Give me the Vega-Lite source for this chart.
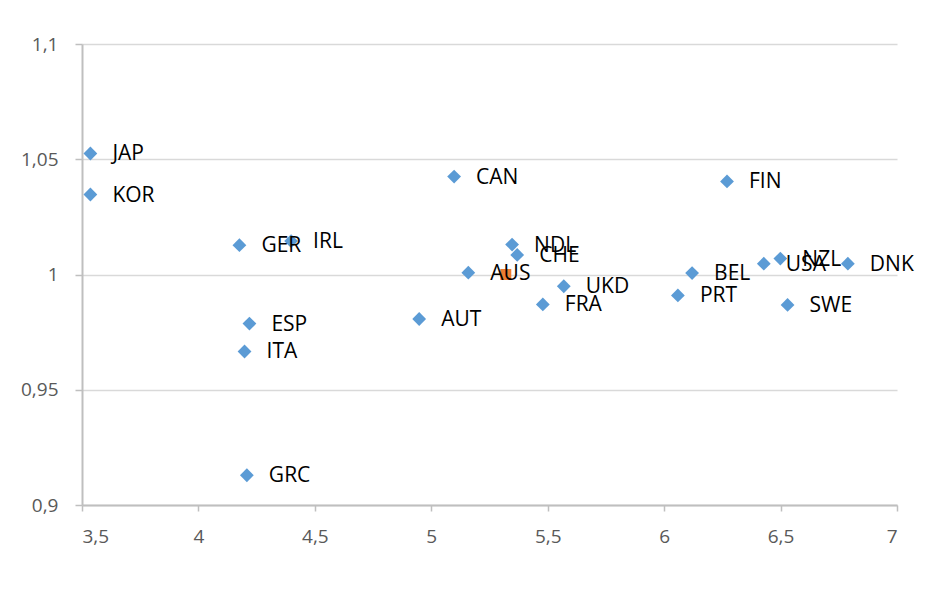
{
  "$schema": "https://vega.github.io/schema/vega-lite/v6.json",
  "autosize": {"type": "none"},
  "padding": {"left": 82, "top": 44, "right": 31, "bottom": 92},
  "width": 815,
  "height": 461,
  "background": "white",
  "config": {
    "view": {"stroke": null},
    "font": "Open Sans"
  },
  "data": {
    "values": [
      {"country": "JAP", "x": 3.536, "y": 1.0525, "series": "A"},
      {"country": "KOR", "x": 3.536, "y": 1.0347, "series": "A"},
      {"country": "GER", "x": 4.176, "y": 1.0127, "series": "A"},
      {"country": "IRL", "x": 4.398, "y": 1.0145, "series": "A"},
      {"country": "ESP", "x": 4.219, "y": 0.9787, "series": "A"},
      {"country": "ITA", "x": 4.198, "y": 0.9666, "series": "A"},
      {"country": "GRC", "x": 4.208, "y": 0.9129, "series": "A"},
      {"country": "AUT", "x": 4.948, "y": 0.9807, "series": "A"},
      {"country": "CAN", "x": 5.098, "y": 1.0425, "series": "A"},
      {"country": "AUS", "x": 5.159, "y": 1.0008, "series": "A"},
      {"country": "NDL", "x": 5.347, "y": 1.013, "series": "A"},
      {"country": "CHE", "x": 5.369, "y": 1.0085, "series": "A"},
      {"country": "FRA", "x": 5.479, "y": 0.987, "series": "A"},
      {"country": "UKD", "x": 5.569, "y": 0.9949, "series": "A"},
      {"country": "PRT", "x": 6.059, "y": 0.9909, "series": "A"},
      {"country": "BEL", "x": 6.12, "y": 1.0006, "series": "A"},
      {"country": "FIN", "x": 6.27, "y": 1.0404, "series": "A"},
      {"country": "USA", "x": 6.428, "y": 1.0047, "series": "A"},
      {"country": "NZL", "x": 6.499, "y": 1.0069, "series": "A"},
      {"country": "SWE", "x": 6.53, "y": 0.9868, "series": "A"},
      {"country": "DNK", "x": 6.789, "y": 1.0047, "series": "A"},
      {"country": "", "x": 5.32, "y": 1.0, "series": "B"}
    ]
  },
  "encoding": {
    "x": {
      "field": "x", "type": "quantitative",
      "scale": {"domain": [3.5, 7], "nice": false, "zero": false},
      "axis": {
        "title": null,
        "values": [3.5, 4, 4.5, 5, 5.5, 6, 6.5, 7],
        "labelExpr": "replace(format(datum.value, '.1~f'), '.', ',')",
        "grid": false,
        "domainColor": "#bfbfbf", "domainWidth": 2,
        "tickColor": "#bfbfbf", "tickWidth": 1.5, "tickSize": 6,
        "labelFont": "Open Sans", "labelFontSize": 19, "labelColor": "#595959",
        "labelPadding": 16
      }
    },
    "y": {
      "field": "y", "type": "quantitative",
      "scale": {"domain": [0.9, 1.1], "nice": false, "zero": false},
      "axis": {
        "title": null,
        "values": [0.9, 0.95, 1, 1.05, 1.1],
        "labelExpr": "replace(format(datum.value, '.3~f'), '.', ',')",
        "grid": true, "gridColor": "#d9d9d9", "gridWidth": 1.5,
        "domainColor": "#bfbfbf", "domainWidth": 2,
        "tickColor": "#bfbfbf", "tickWidth": 1.5, "tickSize": 7,
        "labelFont": "Open Sans", "labelFontSize": 19, "labelColor": "#595959",
        "labelPadding": 17
      }
    }
  },
  "layer": [
    {
      "transform": [{"filter": "datum.series == 'A'"}],
      "mark": {"type": "point", "shape": "diamond", "filled": true, "size": 190, "color": "#5B9BD5", "opacity": 1}
    },
    {
      "transform": [{"filter": "datum.series == 'B'"}],
      "mark": {"type": "point", "shape": "square", "filled": true, "size": 120, "color": "#ED7D31", "opacity": 1}
    },
    {
      "transform": [{"filter": "datum.series == 'A'"}],
      "mark": {"type": "text", "align": "left", "baseline": "middle", "dx": 22, "dy": 1, "fontSize": 21, "font": "Open Sans", "color": "#000000"},
      "encoding": {"text": {"field": "country"}}
    }
  ]
}
